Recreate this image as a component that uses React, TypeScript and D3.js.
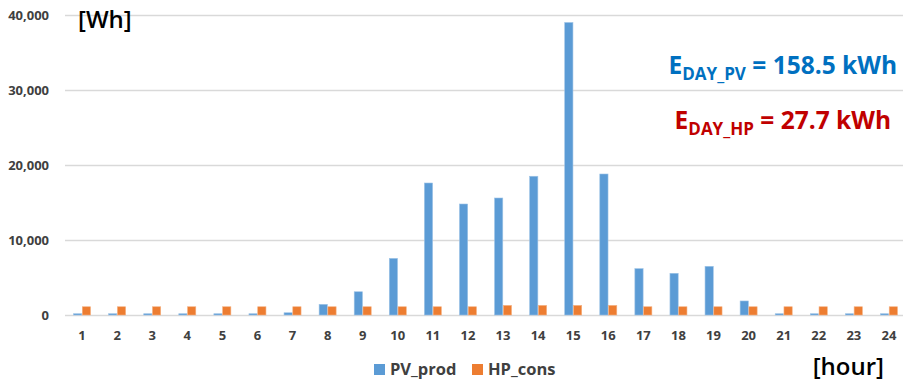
import { useEffect, useRef } from 'react'
import * as d3 from 'd3'

const HOURS = d3.range(1, 25).map(String)

// Wh per hour
const PV_PROD = [
  170, 170, 170, 170, 170, 170, 300, 1420, 3100, 7550, 17600, 14800,
  15600, 18500, 39000, 18800, 6180, 5560, 6490, 1870, 170, 170, 170, 170,
]
const HP_CONS = [
  1100, 1100, 1100, 1100, 1100, 1100, 1100, 1100, 1100, 1100, 1100, 1100,
  1280, 1280, 1280, 1280, 1100, 1100, 1100, 1100, 1100, 1100, 1100, 1100,
]
const SERIES = ['PV_prod', 'HP_cons']
const Y_TICKS = [0, 10000, 20000, 30000, 40000]

const COLORS = ['#5b9bd5', '#ed7d31']
const FONT = "'Open Sans', 'Noto Sans', sans-serif"

export default function App() {
  const svgRef = useRef<SVGSVGElement>(null)

  useEffect(() => {
    if (!svgRef.current) return
    const width = 903
    const height = 384
    const svg = d3.select(svgRef.current)
    svg.selectAll('*').remove()
    svg.attr('width', width).attr('height', height)

    const x = d3.scaleBand().domain(HOURS).range([64.5, 906.5])
    const y = d3.scaleLinear().domain([0, 40000]).range([315, 15])
    const sub = d3.scaleBand().domain(SERIES).range([-8.5, 8.5]).paddingInner(0.06)

    // gridlines
    svg.append('g')
      .selectAll('line')
      .data(Y_TICKS)
      .join('line')
      .attr('x1', 65)
      .attr('x2', width)
      .attr('y1', d => y(d) + 0.5)
      .attr('y2', d => y(d) + 0.5)
      .attr('stroke', '#d9d9d9')
      .attr('stroke-width', 1.5)

    // y tick labels
    const fmt = d3.format(',')
    svg.append('g')
      .selectAll('text')
      .data(Y_TICKS)
      .join('text')
      .attr('x', 49)
      .attr('y', d => y(d))
      .attr('dy', '0.35em')
      .attr('text-anchor', 'end')
      .attr('font-family', FONT)
      .attr('font-weight', 700)
      .attr('font-size', 13)
      .attr('fill', '#404040')
      .text(d => fmt(d))

    // bars
    const data = [PV_PROD, HP_CONS]
    data.forEach((vals, si) => {
      svg.append('g')
        .selectAll('rect')
        .data(vals)
        .join('rect')
        .attr('x', (_, i) => x(HOURS[i])! + x.bandwidth() / 2 + sub(SERIES[si])!)
        .attr('y', d => y(d))
        .attr('width', sub.bandwidth())
        .attr('height', d => y(0) - y(d))
        .attr('fill', COLORS[si])
        .attr('stroke', si === 0 ? '#9dc3e6' : '#f4b183')
        .attr('stroke-width', 0.6)
    })

    // x tick labels
    svg.append('g')
      .selectAll('text')
      .data(HOURS)
      .join('text')
      .attr('x', d => x(d)! + x.bandwidth() / 2)
      .attr('y', 335)
      .attr('dy', '0.35em')
      .attr('text-anchor', 'middle')
      .attr('font-family', FONT)
      .attr('font-weight', 700)
      .attr('font-size', 13)
      .attr('fill', '#404040')
      .text(d => d)

    // unit labels
    svg.append('text')
      .attr('x', 78)
      .attr('y', 28)
      .attr('font-family', FONT)
      .attr('font-weight', 600)
      .attr('font-size', 24)
      .attr('fill', '#000')
      .text('[Wh]')
    svg.append('text')
      .attr('x', 884)
      .attr('y', 375)
      .attr('text-anchor', 'end')
      .attr('font-family', FONT)
      .attr('font-weight', 600)
      .attr('font-size', 24)
      .attr('fill', '#000')
      .text('[hour]')

    // legend
    const legend = svg.append('g')
    const legendX = [374, 472]
    SERIES.forEach((s, i) => {
      legend.append('rect')
        .attr('x', legendX[i])
        .attr('y', 364)
        .attr('width', 11)
        .attr('height', 11)
        .attr('fill', COLORS[i])
      legend.append('text')
        .attr('x', legendX[i] + 16)
        .attr('y', 369.5)
        .attr('dy', '0.35em')
        .attr('font-family', FONT)
        .attr('font-weight', 700)
        .attr('font-size', 16.5)
        .attr('fill', '#404040')
        .text(s)
    })

    // daily energy annotations
    const notes = [
      { sub: 'DAY_PV', rest: ' = 158.5 kWh', color: '#0070c0', x: 897, y: 74 },
      { sub: 'DAY_HP', rest: ' = 27.7 kWh', color: '#c00000', x: 891, y: 129 },
    ]
    notes.forEach(n => {
      const t = svg.append('text')
        .attr('x', n.x)
        .attr('y', n.y)
        .attr('text-anchor', 'end')
        .attr('font-family', FONT)
        .attr('font-weight', 700)
        .attr('font-size', 24.5)
        .attr('fill', n.color)
      t.append('tspan').text('E')
      t.append('tspan').attr('font-size', 17).attr('dy', 6).text(n.sub)
      t.append('tspan').attr('dy', -6).text(n.rest)
    })
  }, [])

  return (
    <div style={{ position: 'absolute', left: 0, top: 0, width: 903, height: 384, background: '#fff' }}>
      <svg ref={svgRef} />
    </div>
  )
}
